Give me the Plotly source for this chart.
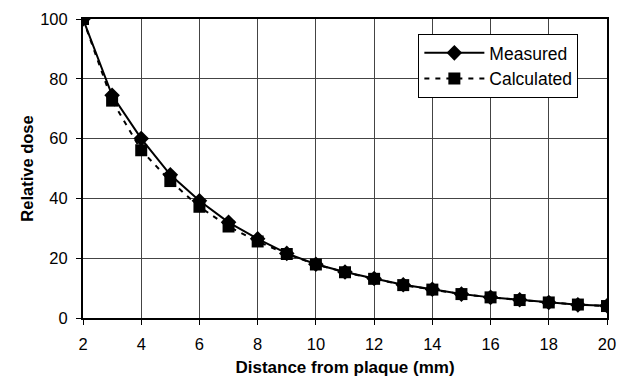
import plotly.graph_objects as go

distance = [2, 3, 4, 5, 6, 7, 8, 9, 10, 11, 12, 13, 14, 15, 16, 17, 18, 19, 20]
measured = [100, 74.5, 60, 47.9, 39.2, 32, 26.5, 21.6, 18, 15.4, 13.2, 11.1, 9.6, 8, 6.9, 6.1, 5.2, 4.4, 4.1]
calculated = [100, 72.7, 56.1, 45.8, 37.2, 30.6, 25.6, 21.4, 17.9, 15.3, 13.1, 11.0, 9.5, 8.0, 6.9, 6.0, 5.2, 4.5, 4.0]

x_ticks = [2, 4, 6, 8, 10, 12, 14, 16, 18, 20]
y_ticks = [0, 20, 40, 60, 80, 100]

FONT = "Liberation Sans, Arial, sans-serif"

fig = go.Figure()
fig.add_trace(go.Scatter(
    x=distance, y=measured, name="Measured", mode="lines+markers",
    legendgroup="m",
    line=dict(color="black", width=2),
    marker=dict(symbol="diamond", size=12, color="black"),
))
fig.add_trace(go.Scatter(
    x=distance, y=calculated, name="Calculated", mode="lines+markers",
    legendgroup="c",
    line=dict(color="black", width=2, dash="5px,6px"),
    marker=dict(symbol="square", size=12, color="black"),
))

fig.update_layout(
    width=617, height=377,
    margin=dict(l=83, r=10, t=19, b=58.5),
    paper_bgcolor="white", plot_bgcolor="white",
    font=dict(family=FONT, size=16.5, color="black"),
    showlegend=True,
    legend=dict(
        x=0.64, y=0.95, xanchor="left", yanchor="top",
        bgcolor="white", bordercolor="black", borderwidth=1,
        font=dict(size=17.5), itemwidth=60, tracegroupgap=0,
    ),
    xaxis=dict(
        range=[2, 20], tickvals=x_ticks, ticktext=[str(v) for v in x_ticks],
        showgrid=True, gridcolor="#444", gridwidth=1,
        showline=True, linecolor="black", linewidth=2, mirror=True,
        ticks="outside", ticklen=5, tickcolor="black", tickwidth=1,
        ticklabelstandoff=5, automargin=False,
        zeroline=False,
        title=dict(text="<b>Distance from plaque (mm)</b>", font=dict(size=17)),
    ),
    yaxis=dict(
        range=[0, 100], tickvals=y_ticks, ticktext=[str(v) for v in y_ticks],
        showgrid=True, gridcolor="#444", gridwidth=1,
        showline=True, linecolor="black", linewidth=2, mirror=True,
        ticks="outside", ticklen=5, tickcolor="black", tickwidth=1,
        ticklabelstandoff=5, automargin=False,
        zeroline=False,
        title=dict(text="<b>Relative dose</b>", font=dict(size=16.5), standoff=2),
    ),
)

fig.write_html("out.html")
